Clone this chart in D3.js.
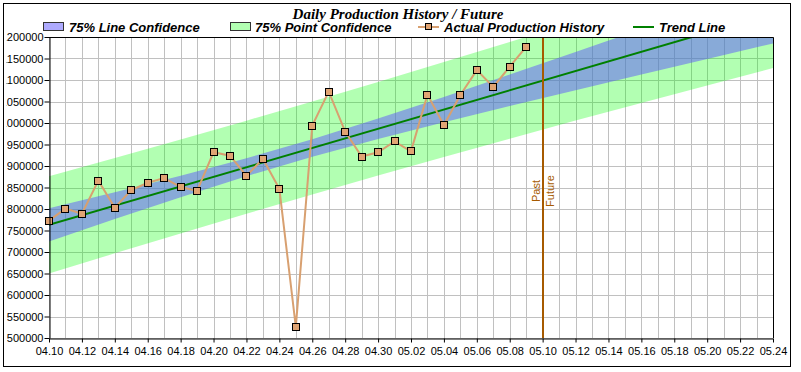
<!DOCTYPE html>
<meta charset='utf-8'>
<style>
    body { margin: 0; background: #fff; }
    text { font-family: 'Liberation Sans', Arial, sans-serif; }
</style>
<body>
<div id='chart'></div>
<script src='https://d3js.org/d3.v7.min.js'></script>
<script>
    // daily production history
    const historyDates = [ '04.10', '04.11', '04.12', '04.13', '04.14', '04.15', '04.16', '04.17', '04.18', '04.19',
        '04.20', '04.21', '04.22', '04.23', '04.24', '04.25', '04.26', '04.27', '04.28', '04.29', '04.30',
        '05.01', '05.02', '05.03', '05.04', '05.05', '05.06', '05.07', '05.08', '05.09' ];
    const historyValues = [ 773000, 801000, 789000, 866000, 803000, 844000, 861000, 872000, 851000, 842000,
        932000, 924000, 877000, 917000, 847000, 526000, 994000, 1073000, 980000, 922000, 932000,
        957000, 934000, 1066000, 995000, 1065000, 1123000, 1084000, 1131000, 1177000 ];

    // trend line end points
    const trendDates = [ '04.10', '05.24' ];
    const trendValues = [ 763000, 1255000 ];

    // confidence bands, read every 4 days
    const bandDates = [ '04.10', '04.14', '04.18', '04.22', '04.26', '04.30', '05.04', '05.08', '05.12', '05.16', '05.20', '05.24' ];
    const lineUpper = [ 801500, 838800, 877300, 918000, 962200, 1010200, 1060700, 1112600, 1165300, 1218200, 1271400, 1324800 ];
    const lineLower = [ 724500, 776600, 827500, 876400, 921600, 963000, 1001900, 1039400, 1076300, 1112800, 1149000, 1185000 ];
    const pointUpper = [ 876100, 918500, 961600, 1005500, 1050100, 1095500, 1141600, 1188400, 1236000, 1284200, 1332900, 1382100 ];
    const pointLower = [ 649900, 696900, 743200, 788900, 833700, 877700, 921000, 963600, 1005600, 1046800, 1087500, 1127700 ];

    const splitDate = '05.10';
    const xDomain = [ '04.10', '05.24' ];
    const yDomain = [ 500000, 1200000 ];

    const W = 801, H = 372;
    const plot = { left: 49, right: 773, top: 37, bottom: 338 };
    const parse = d3.utcParse( '%m.%d' );
    const fmt = d3.utcFormat( '%m.%d' );

    const svg = d3.select( '#chart' ).append( 'svg' )
        .attr( 'width', W ).attr( 'height', H );

    const defs = svg.append( 'defs' );
    defs.append( 'clipPath' ).attr( 'id', 'plotClip' )
        .append( 'rect' )
        .attr( 'x', plot.left ).attr( 'y', plot.top )
        .attr( 'width', plot.right - plot.left ).attr( 'height', plot.bottom - plot.top );
    defs.append( 'clipPath' ).attr( 'id', 'frameClip' )
        .append( 'rect' ).attr( 'x', 4 ).attr( 'y', 4 ).attr( 'width', 786 ).attr( 'height', 362 );
    // y labels get cut off at the left, like the original
    defs.append( 'clipPath' ).attr( 'id', 'labelClip' )
        .append( 'rect' ).attr( 'x', 6.5 ).attr( 'y', 4 ).attr( 'width', 786 ).attr( 'height', 362 );

    const x = d3.scaleUtc()
        .domain( xDomain.map( parse ) )
        .range( [ plot.left, plot.right ] );
    const y = d3.scaleLinear()
        .domain( yDomain )
        .range( [ plot.bottom, plot.top ] );

    const root = svg.append( 'g' ).attr( 'clip-path', 'url(#frameClip)' );

    // grid
    const days = d3.utcDay.range( parse( xDomain[0] ), d3.utcDay.offset( parse( xDomain[1] ), 1 ) );
    const yTicks = d3.range( yDomain[0], yDomain[1] + 1, 50000 );
    const grid = root.append( 'g' ).attr( 'stroke', '#c0c0c0' ).attr( 'stroke-width', 1 );
    grid.selectAll( '.vg' ).data( days ).join( 'line' )
        .attr( 'x1', d => Math.round( x( d ) ) + 0.5 ).attr( 'x2', d => Math.round( x( d ) ) + 0.5 )
        .attr( 'y1', plot.top ).attr( 'y2', plot.bottom );
    grid.selectAll( '.hg' ).data( yTicks ).join( 'line' )
        .attr( 'y1', d => Math.round( y( d ) ) + 0.5 ).attr( 'y2', d => Math.round( y( d ) ) + 0.5 )
        .attr( 'x1', plot.left ).attr( 'x2', plot.right );

    // bands
    const bandRows = bandDates.map( ( d, i ) => ( {
        date: parse( d ), lu: lineUpper[i], ll: lineLower[i], pu: pointUpper[i], pl: pointLower[i]
    } ) );
    const bands = root.append( 'g' ).attr( 'clip-path', 'url(#plotClip)' );
    bands.append( 'path' )
        .datum( bandRows )
        .attr( 'fill', 'rgba(0,255,0,0.3)' )
        .attr( 'd', d3.area().x( d => x( d.date ) ).y0( d => y( d.pl ) ).y1( d => y( d.pu ) ) );
    bands.append( 'path' )
        .datum( bandRows )
        .attr( 'fill', 'rgba(93,85,253,0.5)' )
        .attr( 'd', d3.area().x( d => x( d.date ) ).y0( d => y( d.ll ) ).y1( d => y( d.lu ) ) );

    // trend
    bands.append( 'path' )
        .datum( trendDates.map( ( d, i ) => [ parse( d ), trendValues[i] ] ) )
        .attr( 'fill', 'none' ).attr( 'stroke', '#008000' ).attr( 'stroke-width', 2 )
        .attr( 'd', d3.line().x( d => x( d[0] ) ).y( d => y( d[1] ) ) );

    // past / future marker
    const sx = Math.round( x( parse( splitDate ) ) );
    root.append( 'line' )
        .attr( 'x1', sx ).attr( 'x2', sx ).attr( 'y1', plot.top ).attr( 'y2', plot.bottom )
        .attr( 'stroke', '#a65a00' ).attr( 'stroke-width', 2 );
    root.append( 'text' )
        .attr( 'transform', `translate( ${sx - 3}, 191 ) rotate( -90 )` )
        .attr( 'text-anchor', 'middle' ).attr( 'font-size', 11 ).attr( 'fill', '#a65a00' )
        .text( 'Past' );
    root.append( 'text' )
        .attr( 'transform', `translate( ${sx + 11}, 191 ) rotate( -90 )` )
        .attr( 'text-anchor', 'middle' ).attr( 'font-size', 11 ).attr( 'fill', '#a65a00' )
        .text( 'Future' );

    // actual production history
    const hist = historyDates.map( ( d, i ) => ( { date: parse( d ), value: historyValues[i] } ) );
    root.append( 'path' )
        .datum( hist )
        .attr( 'fill', 'none' ).attr( 'stroke', '#d8a070' ).attr( 'stroke-width', 2 )
        .attr( 'd', d3.line().x( d => x( d.date ) ).y( d => y( d.value ) ) );
    root.selectAll( '.mk' ).data( hist ).join( 'rect' )
        .attr( 'x', d => Math.round( x( d.date ) ) - 3.5 ).attr( 'y', d => Math.round( y( d.value ) ) - 3.5 )
        .attr( 'width', 7 ).attr( 'height', 7 )
        .attr( 'fill', '#e0a473' ).attr( 'stroke', '#000' ).attr( 'stroke-width', 1 );

    // plot border top/right
    root.append( 'path' )
        .attr( 'd', `M${plot.left},${plot.top + 0.5}H${plot.right + 0.5}V${plot.bottom}` )
        .attr( 'fill', 'none' ).attr( 'stroke', '#000' );

    // axes
    const xAxis = d3.axisBottom( x )
        .tickValues( days.filter( ( d, i ) => i % 2 === 0 ) )
        .tickFormat( fmt ).tickSize( 4 ).tickSizeOuter( 0 );
    const xg = root.append( 'g' ).attr( 'transform', `translate( 0, ${plot.bottom + 0.5} )` ).call( xAxis );
    xg.selectAll( 'text' ).attr( 'font-size', 11 ).attr( 'font-family', 'Liberation Sans, Arial' ).attr( 'fill', '#000' ).attr( 'dy', '0.9em' );

    const yAxis = d3.axisLeft( y ).tickValues( yTicks ).tickFormat( d3.format( 'd' ) ).tickSize( 5 ).tickSizeOuter( 0 );
    const yg = root.append( 'g' ).attr( 'clip-path', 'url(#labelClip)' )
        .append( 'g' ).attr( 'transform', `translate( ${plot.left + 0.5}, 0 )` ).call( yAxis );
    yg.selectAll( 'text' ).attr( 'font-size', 11 ).attr( 'font-family', 'Liberation Sans, Arial' ).attr( 'fill', '#000' ).attr( 'x', -6 );
    root.selectAll( '.domain, .tick line' ).attr( 'stroke', '#000' );

    // title
    svg.append( 'text' )
        .attr( 'x', 398 ).attr( 'y', 18.5 )
        .attr( 'text-anchor', 'middle' )
        .style( 'font-family', '"Liberation Serif", "Times New Roman", serif' )
        .style( 'font-weight', 'bold' ).style( 'font-style', 'italic' ).style( 'font-size', '15px' )
        .text( 'Daily Production History / Future' );

    // legend
    const legend = svg.append( 'g' )
        .style( 'font-weight', 'bold' ).style( 'font-style', 'italic' ).style( 'font-size', '13px' );
    const legendItems = [
        { label: '75% Line Confidence', kind: 'box', color: 'rgba(93,85,253,0.5)', x: 43, tx: 69 },
        { label: '75% Point Confidence', kind: 'box', color: 'rgba(0,255,0,0.3)', x: 230, tx: 255 },
        { label: 'Actual Production History', kind: 'marker', color: '#d8a070', x: 418, tx: 444 },
        { label: 'Trend Line', kind: 'line', color: '#008000', x: 633, tx: 659 },
    ];
    legendItems.forEach( it => {
        if ( it.kind === 'box' ) {
            legend.append( 'rect' ).attr( 'x', it.x + 0.5 ).attr( 'y', 22.5 ).attr( 'width', 20 ).attr( 'height', 8 )
                .attr( 'fill', it.color ).attr( 'stroke', '#333' );
        } else {
            legend.append( 'line' ).attr( 'x1', it.x ).attr( 'x2', it.x + 21 ).attr( 'y1', 27 ).attr( 'y2', 27 )
                .attr( 'stroke', it.color ).attr( 'stroke-width', 2 );
            if ( it.kind === 'marker' ) {
                legend.append( 'rect' ).attr( 'x', it.x + 7.5 ).attr( 'y', 23.5 ).attr( 'width', 6 ).attr( 'height', 6 )
                    .attr( 'fill', '#e0a473' ).attr( 'stroke', '#000' );
            }
        }
        legend.append( 'text' ).attr( 'x', it.tx ).attr( 'y', 32 ).text( it.label );
    } );

    // outer frame
    svg.append( 'rect' )
        .attr( 'x', 3.5 ).attr( 'y', 3.5 ).attr( 'width', 787 ).attr( 'height', 363 )
        .attr( 'fill', 'none' ).attr( 'stroke', '#000' );
</script>
</body>
